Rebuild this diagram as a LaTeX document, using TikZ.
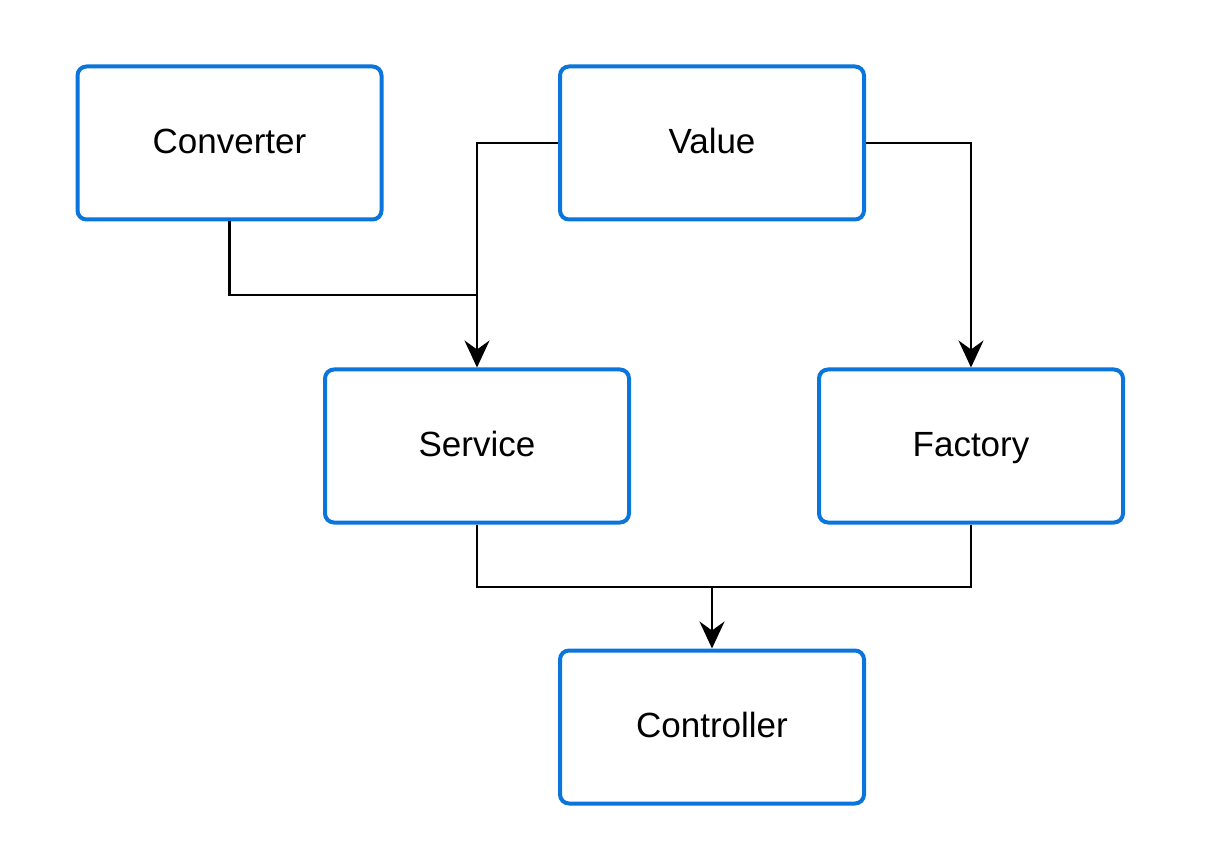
\documentclass[tikz,border=0pt]{standalone}
\usepackage{fontspec}
\setmainfont{Liberation Sans}
\usetikzlibrary{arrows.meta}
\definecolor{boxblue}{RGB}{10,117,218}
\begin{document}
\begin{tikzpicture}[x=1pt,y=-1pt,
  box/.style={draw=boxblue,line width=4pt,rounded corners=9pt,minimum width=304pt,minimum height=153pt,inner sep=0pt,text height=28pt,text depth=7pt,font=\fontsize{35}{40}\selectfont,fill=white},
  conn/.style={line width=2.2pt,black},
  arr/.style={conn,-{Stealth[length=27pt,width=25pt,inset=9pt]}}]
\useasboundingbox[fill=white] (0,0) rectangle (1218,858);
\node[box] (conv) at (229.5,143) {Converter};
\node[box] (val) at (712,143) {Value};
\node[box] (serv) at (477,446) {Service};
\node[box] (fact) at (971,446) {Factory};
\node[box] (ctrl) at (712,727) {Controller};
\coordinate (j1) at (477,295);
\coordinate (j2) at (712,587);
\draw[arr] (val.west) -| (serv.north);
\draw[conn] (conv.south) |- (j1);
\draw[arr] (val.east) -| (fact.north);
\draw[conn] (serv.south) |- (j2);
\draw[conn] (fact.south) |- (j2);
\draw[arr] (j2) -- (ctrl.north);
\end{tikzpicture}
\end{document}
